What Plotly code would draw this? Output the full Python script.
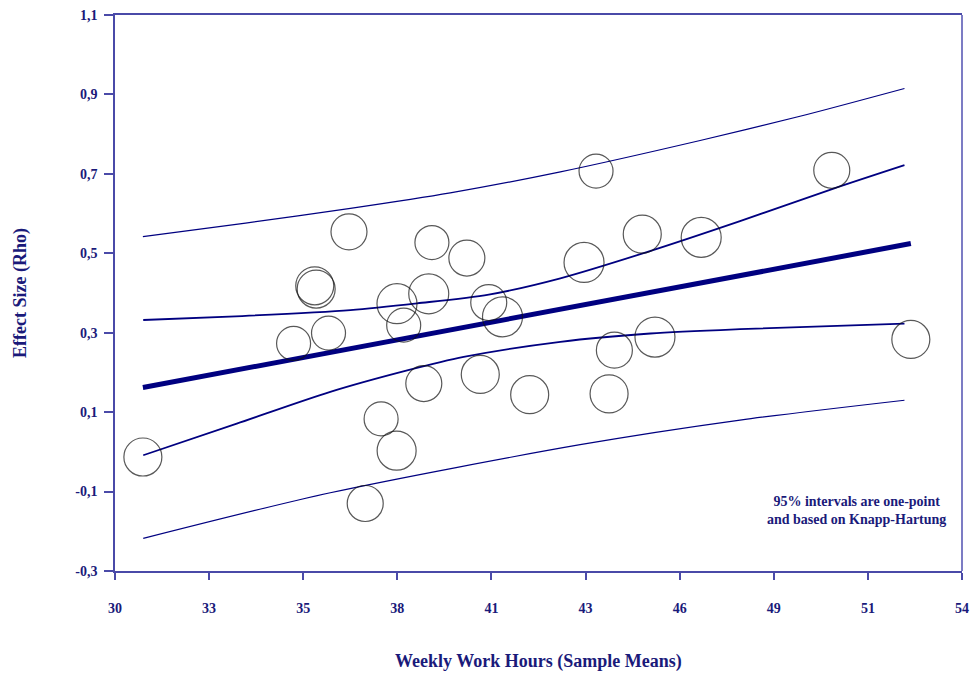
import plotly.graph_objects as go

# Study-level effect sizes against mean weekly work hours
hours = [30.79, 35.06, 35.66, 35.70, 36.05, 36.63, 37.09, 37.54, 37.99, 37.98,
         38.18, 38.89, 38.75, 38.98, 39.97, 40.59, 40.35, 40.98, 41.75, 43.29,
         43.63, 44.15, 44.00, 44.94, 45.30, 46.61, 50.31, 52.55]
rho = [-0.013, 0.273, 0.418, 0.410, 0.299, 0.554, -0.130, 0.083, 0.373, 0.003,
       0.319, 0.398, 0.172, 0.527, 0.488, 0.376, 0.195, 0.340, 0.144, 0.477,
       0.707, 0.256, 0.146, 0.548, 0.289, 0.540, 0.709, 0.283]
bubble_px = [38, 34, 38, 38, 34, 36, 36, 34, 40, 39,
             34, 40, 36, 34, 36, 36, 38, 40, 38, 40,
             34, 36, 38, 38, 40, 40, 36, 38]

# Meta-regression line
fit_x = [30.79, 52.55]
fit_y = [0.162, 0.5245]

# Inner (confidence) band
ci_up_x = [30.80, 33.60, 36.67, 38.56, 40.59, 42.62, 45.07, 47.71, 50.36, 52.37]
ci_up_y = [0.332, 0.342, 0.357, 0.374, 0.396, 0.437, 0.503, 0.581, 0.663, 0.722]
ci_lo_x = [30.80, 33.45, 36.10, 38.28, 39.88, 42.62, 45.17, 47.71, 52.37]
ci_lo_y = [-0.0085, 0.071, 0.151, 0.205, 0.239, 0.277, 0.298, 0.309, 0.323]

# Outer (prediction) band
pi_up_x = [30.79, 33.70, 36.67, 39.50, 42.62, 46.58, 49.41, 52.37]
pi_up_y = [0.542, 0.576, 0.613, 0.652, 0.705, 0.784, 0.845, 0.915]
pi_lo_x = [30.80, 36.10, 43.18, 47.71, 52.37]
pi_lo_y = [-0.218, -0.103, 0.018, 0.080, 0.130]

x_tickvals = [30 + i * 24 / 9 for i in range(10)]
x_ticktext = ["30", "33", "35", "38", "41", "43", "46", "49", "51", "54"]
y_tickvals = [-0.3, -0.1, 0.1, 0.3, 0.5, 0.7, 0.9, 1.1]
y_ticktext = ["-0,3", "-0,1", "0,1", "0,3", "0,5", "0,7", "0,9", "1,1"]

NAVY = "#000080"
TEXT = "#1a1a7a"
AXIS = "#4a4aa8"
FONT = "Liberation Serif"

fig = go.Figure()

for bx, by, w in [(pi_up_x, pi_up_y, 1.2), (pi_lo_x, pi_lo_y, 1.2),
                  (ci_up_x, ci_up_y, 1.8), (ci_lo_x, ci_lo_y, 1.8)]:
    fig.add_trace(go.Scatter(x=bx, y=by, mode="lines",
                             line=dict(color=NAVY, width=w, shape="spline", smoothing=0.8),
                             hoverinfo="skip", showlegend=False))

fig.add_trace(go.Scatter(x=fit_x, y=fit_y, mode="lines",
                         line=dict(color=NAVY, width=5),
                         showlegend=False))

fig.add_trace(go.Scatter(x=hours, y=rho, mode="markers",
                         marker=dict(symbol="circle-open", size=bubble_px,
                                     color="#111111", line=dict(width=1.2)),
                         showlegend=False))

tick_font = dict(family=FONT, color=TEXT, size=14, weight="bold")

fig.update_layout(
    width=972, height=674,
    margin=dict(l=115, r=10, t=15, b=103, autoexpand=False),
    paper_bgcolor="white", plot_bgcolor="white",
    font=dict(family=FONT, color=TEXT, size=14, weight="bold"),
    xaxis=dict(range=[30, 54], tickvals=x_tickvals, ticktext=x_ticktext,
               showgrid=False, zeroline=False, showline=True, linecolor=AXIS,
               linewidth=1.5, mirror=True, ticks="outside", ticklen=7,
               tickcolor=AXIS, tickwidth=1.5, ticklabelstandoff=16,
               tickfont=tick_font),
    yaxis=dict(range=[-0.3, 1.1], tickvals=y_tickvals, ticktext=y_ticktext,
               showgrid=False, zeroline=False, showline=True, linecolor=AXIS,
               linewidth=1.5, ticks="outside", ticklen=9, tickcolor=AXIS,
               tickwidth=1.5, ticklabelstandoff=4,
               tickfont=tick_font),
    shapes=[dict(type="line", xref="paper", yref="paper", x0=1, x1=1, y0=0, y1=1,
                 line=dict(color="#7c7cc4", width=2))],
    annotations=[
        dict(text="Weekly Work Hours (Sample Means)", xref="paper", yref="paper",
             x=0.5, y=0, yshift=-90, showarrow=False, yanchor="middle",
             font=dict(family=FONT, color=TEXT, size=18, weight="bold")),
        dict(text="Effect Size (Rho)", xref="paper", yref="paper",
             x=0, y=0.5, xshift=-95, textangle=-90, showarrow=False,
             xanchor="center", yanchor="middle",
             font=dict(family=FONT, color=TEXT, size=18, weight="bold")),
        dict(text="95% intervals are one-point<br>and based on Knapp-Hartung",
             x=51.0, y=-0.148, xref="x", yref="y", showarrow=False,
             align="center", font=dict(family=FONT, color=TEXT, size=14, weight="bold")),
    ],
)

fig.write_html("out.html")
